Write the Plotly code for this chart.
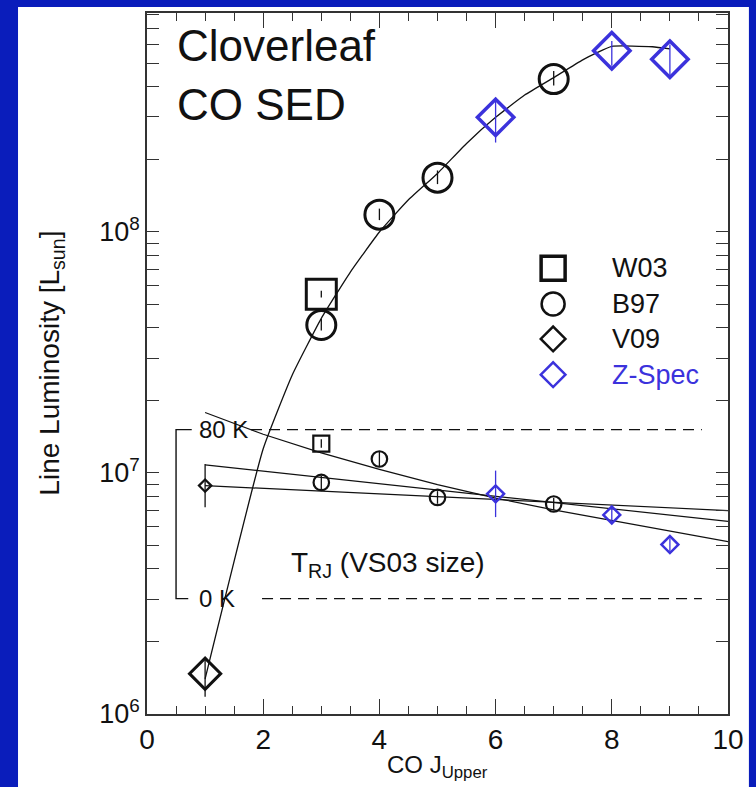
import plotly.graph_objects as go

# ---------------- data ----------------
# CO SED model curve (J_upper, L in L_sun)
curve_j = [1, 2, 2.5, 3, 3.5, 4, 4.5, 5, 5.5, 6, 6.5, 7, 7.5, 8, 8.7, 9]
curve_L = [1.40e6, 1.26e7, 2.55e7, 4.38e7, 6.82e7, 1.00e8, 1.36e8, 1.75e8,
           2.33e8, 2.99e8, 3.70e8, 4.37e8, 5.18e8, 5.89e8, 5.87e8, 5.75e8]

# Line luminosities
w03_j = [3]
w03_L = [5.52e7]
w03_hi = [5.70e7]
w03_lo = [5.35e7]

b97_j = [3, 4, 5, 7]
b97_L = [4.11e7, 1.18e8, 1.68e8, 4.31e8]
b97_hi = [4.35e7, 1.25e8, 1.80e8, 4.65e8]
b97_lo = [3.90e7, 1.12e8, 1.58e8, 4.05e8]

v09_j = [1]
v09_L = [1.47e6]
v09_hi = [1.71e6]
v09_lo = [1.18e6]

zs_j = [6, 8, 9]
zs_L = [2.99e8, 5.65e8, 5.21e8]
zs_hi = [3.61e8, 6.20e8, 6.00e8]
zs_lo = [2.35e8, 4.90e8, 4.40e8]

# Rayleigh-Jeans brightness temperatures (K), VS03 size
w03_T = [73.4]
w03_Terr = [2.0]
b97_T = [55.0, 66.1, 47.9, 44.8]
b97_Terr = [3.2, 3.5, 3.0, 3.0]
v09_T = [53.5]
v09_Terr = [10.2]
zs_T = [49.6, 39.6, 25.6]
zs_Terr = [11.0, 3.5, 3.0]

# T_RJ fit lines
fitA_j = [1, 2, 3, 4, 5, 6, 7, 8, 9, 10]
fitA_T = [88.1, 77.8, 69.0, 61.2, 54.0, 47.6, 42.0, 37.0, 32.0, 27.0]
fitB_j = [1, 6, 10]
fitB_T = [63.3, 48.5, 36.6]
fitC_j = [1, 6, 10]
fitC_T = [53.5, 47.0, 41.7]

x_ticks = [0, 2, 4, 6, 8, 10]
y_ticks = [1e6, 1e7, 1e8]
y_ticktext = ["10<sup>6</sup>", "10<sup>7</sup>", "10<sup>8</sup>"]

legend_names = ["W03", "B97", "V09", "Z-Spec"]

# ---------------- style ----------------
FONT = "Liberation Sans, Arial, Helvetica, sans-serif"
BLACK = "#111111"
BLUE = "#3b32dc"
BG_BLUE = "#0a1dbb"

fig = go.Figure()

# model curve
fig.add_trace(go.Scatter(x=curve_j, y=curve_L, mode="lines",
                         line=dict(color=BLACK, width=1.3, shape="spline", smoothing=0.4),
                         hoverinfo="skip"))


def err(vals, hi, lo):
    return dict(type="data", symmetric=False,
                array=[h - v for h, v in zip(hi, vals)],
                arrayminus=[v - l for v, l in zip(vals, lo)])


def add_big(j, L, hi, lo, symbol, size, color, lw):
    e = err(L, hi, lo)
    e.update(color=color, thickness=1.3, width=0)
    fig.add_trace(go.Scatter(x=j, y=L, mode="markers", error_y=e,
                             marker=dict(symbol=symbol, size=size, color=color,
                                         line=dict(width=lw, color=color))))


add_big(w03_j, w03_L, w03_hi, w03_lo, "square-open", 30, BLACK, 3)
add_big(b97_j, b97_L, b97_hi, b97_lo, "circle-open", 29, BLACK, 3)
add_big(v09_j, v09_L, v09_hi, v09_lo, "diamond-open", 24, BLACK, 3)
add_big(zs_j, zs_L, zs_hi, zs_lo, "diamond-open", 28, BLUE, 3.5)

# T_RJ fit lines (secondary axis)
for fj, fT in [(fitA_j, fitA_T), (fitB_j, fitB_T), (fitC_j, fitC_T)]:
    fig.add_trace(go.Scatter(x=fj, y=fT, yaxis="y2", mode="lines",
                             line=dict(color=BLACK, width=1.2), hoverinfo="skip"))


def add_small(j, T, Terr, symbol, size, color, lw):
    fig.add_trace(go.Scatter(x=j, y=T, yaxis="y2", mode="markers",
                             error_y=dict(type="data", array=Terr, color=color,
                                          thickness=1.3, width=0),
                             marker=dict(symbol=symbol, size=size, color=color,
                                         line=dict(width=lw, color=color))))


add_small(w03_j, w03_T, w03_Terr, "square-open", 16, BLACK, 2.2)
add_small(b97_j, b97_T, b97_Terr, "circle-open", 15.5, BLACK, 2.2)
add_small(v09_j, v09_T, v09_Terr, "diamond-open", 9.5, BLACK, 2.2)
add_small(zs_j, zs_T, zs_Terr, "diamond-open", 13, BLUE, 2.5)

# custom legend glyphs (overlay axis in plot-fraction units)
leg_y = [0.636, 0.585, 0.535, 0.484]
leg_sym = ["square-open", "circle-open", "diamond-open", "diamond-open"]
leg_size = [24, 23, 19, 19]
leg_lw = [3.5, 2.5, 2.5, 2.5]
leg_col = [BLACK, BLACK, BLACK, BLUE]
for yy, sym, sz, lw, c in zip(leg_y, leg_sym, leg_size, leg_lw, leg_col):
    fig.add_trace(go.Scatter(x=[0.699], y=[yy], xaxis="x3", yaxis="y3",
                             mode="markers",
                             marker=dict(symbol=sym, size=sz, color=c,
                                         line=dict(width=lw, color=c))))

annotations = []
for name, yy, c in zip(legend_names, leg_y, leg_col):
    annotations.append(dict(x=0.797, y=yy, xref="paper", yref="paper", text=name,
                            showarrow=False, xanchor="left", yanchor="middle",
                            font=dict(family=FONT, size=27, color=c)))

annotations += [
    dict(x=0.048, y=0.953, xref="paper", yref="paper", text="Cloverleaf",
         showarrow=False, xanchor="left", yanchor="middle",
         font=dict(family=FONT, size=44, color=BLACK)),
    dict(x=0.048, y=0.869, xref="paper", yref="paper", text="CO SED",
         showarrow=False, xanchor="left", yanchor="middle",
         font=dict(family=FONT, size=44, color=BLACK)),
    dict(x=0.86, y=80, xref="x", yref="y2", text="80 K",
         showarrow=False, xanchor="left", yanchor="middle",
         font=dict(family=FONT, size=24, color=BLACK)),
    dict(x=0.86, y=0, xref="x", yref="y2", text="0 K",
         showarrow=False, xanchor="left", yanchor="middle",
         font=dict(family=FONT, size=24, color=BLACK)),
    dict(x=2.44, y=16, xref="x", yref="y2", text="T<sub>RJ</sub> (VS03 size)",
         showarrow=False, xanchor="left", yanchor="middle",
         font=dict(family=FONT, size=28, color=BLACK)),
    dict(x=0.5, y=-0.0755, xref="paper", yref="paper", text="CO J<sub>Upper</sub>",
         showarrow=False, xanchor="center", yanchor="middle",
         font=dict(family=FONT, size=24, color=BLACK)),
    dict(x=-0.165, y=0.5, xref="paper", yref="paper",
         text="Line Luminosity [L<sub>sun</sub>]", textangle=-90,
         showarrow=False, xanchor="center", yanchor="middle",
         font=dict(family=FONT, size=28, color=BLACK)),
]

shapes = [
    # white panel
    dict(type="rect", xref="paper", yref="paper", x0=-0.222, x1=1.036,
         y0=-0.11, y1=1.0085, fillcolor="white", line=dict(width=0), layer="below"),
    # bracket for T_RJ scale
    dict(type="path", xref="x", yref="y2",
         path="M 0.77,80 L 0.5,80 L 0.5,0 L 0.71,0",
         line=dict(color=BLACK, width=1.4)),
    # dashed reference levels
    dict(type="line", xref="x", yref="y2", x0=1.79, x1=9.55, y0=80, y1=80,
         line=dict(color=BLACK, width=1.2, dash="11px,7px")),
    dict(type="line", xref="x", yref="y2", x0=1.98, x1=9.55, y0=0, y1=0,
         line=dict(color=BLACK, width=1.2, dash="11px,7px")),
]

fig.update_layout(
    width=756, height=787,
    margin=dict(l=147, r=28, t=11, b=73),
    paper_bgcolor=BG_BLUE, plot_bgcolor="white",
    showlegend=False,
    font=dict(family=FONT, color=BLACK),
    xaxis=dict(range=[0, 10], tickvals=x_ticks, showline=True, linecolor="#333333",
               linewidth=1.5, mirror="ticks", ticks="inside", ticklen=15,
               tickwidth=1.3, tickcolor="#333333", showgrid=False, zeroline=False,
               tickfont=dict(family=FONT, size=28, color=BLACK),
               minor=dict(ticks="inside", ticklen=8, dtick=0.5, tickwidth=1.2,
                          tickcolor="#333333", showgrid=False)),
    yaxis=dict(type="log", range=[6, 8.9086], tickvals=y_ticks, ticktext=y_ticktext,
               showline=True, linecolor="#333333", linewidth=1.5, mirror="ticks",
               ticks="inside", ticklen=12, tickwidth=1.3, tickcolor="#333333",
               showgrid=False, zeroline=False,
               tickfont=dict(family=FONT, size=27, color=BLACK),
               minor=dict(ticks="inside", ticklen=12, dtick="D1", tickwidth=1.2,
                          tickcolor="#333333", showgrid=False)),
    yaxis2=dict(overlaying="y", anchor="x", range=[-54.6, 277.2], visible=False),
    xaxis3=dict(overlaying="x", anchor="y3", range=[0, 1], visible=False),
    yaxis3=dict(overlaying="y", anchor="x3", range=[0, 1], visible=False),
    annotations=annotations,
    shapes=shapes,
)

fig.write_html("out.html")
